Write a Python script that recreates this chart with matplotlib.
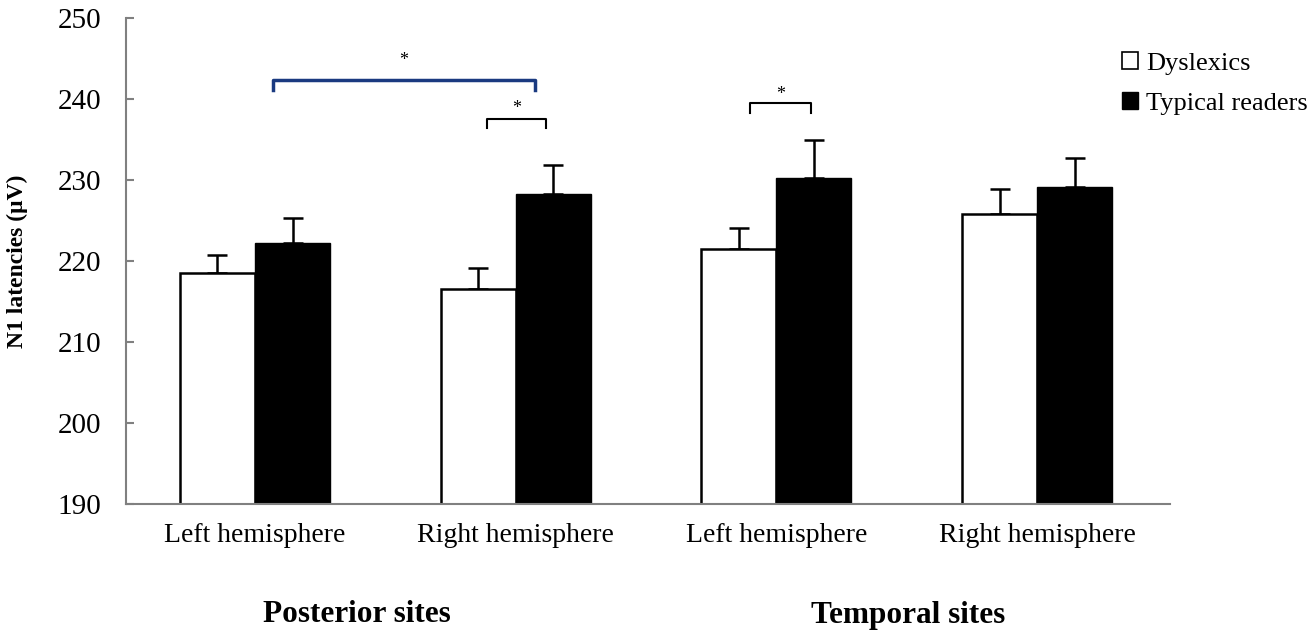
import matplotlib
matplotlib.use("Agg")
import matplotlib.pyplot as plt
import numpy as np
from matplotlib.patches import Patch

categories = ["Left hemisphere", "Right hemisphere", "Left hemisphere", "Right hemisphere"]
groups = ["Posterior sites", "Temporal sites"]
dyslexics = [218.5, 216.5, 221.5, 225.8]
dyslexics_err = [2.2, 2.6, 2.6, 3.1]
typical = [222.2, 228.3, 230.2, 229.1]
typical_err = [3.1, 3.6, 4.7, 3.6]
yticks = [190, 200, 210, 220, 230, 240, 250]

plt.rcParams['font.family'] = ['Liberation Serif', 'DejaVu Serif']

fig = plt.figure(figsize=(13.13, 6.41), dpi=100)
W, H = 1313, 641
ax = fig.add_axes([126 / W, 1 - 504 / H, (1170 - 126) / W, (504 - 18) / H])

x = np.arange(len(categories))
w = 0.288
ax.bar(x - w / 2, dyslexics, width=w, color='white', edgecolor='black', linewidth=1.8,
       label='Dyslexics', zorder=2)
ax.bar(x + w / 2, typical, width=w, color='black', edgecolor='black', linewidth=1.0,
       label='Typical readers', zorder=2)
ax.errorbar(x - w / 2, dyslexics, yerr=[np.zeros(4), dyslexics_err], fmt='none',
            ecolor='black', elinewidth=1.8, capsize=7, capthick=1.8, zorder=1)
ax.errorbar(x + w / 2, typical, yerr=[np.zeros(4), typical_err], fmt='none',
            ecolor='black', elinewidth=1.8, capsize=7, capthick=1.8, zorder=1)

ax.set_ylim(190, 250)
ax.set_xlim(-0.495, 3.51)
ax.set_yticks(yticks)
ax.set_yticklabels([str(t) for t in yticks], fontsize=21)
ax.set_xticks(x)
ax.set_xticklabels(categories, fontsize=20)
ax.tick_params(axis='y', direction='in', length=6, color='#808080', width=1.5, pad=18)
ax.tick_params(axis='x', length=0, pad=14)
for s in ['top', 'right']:
    ax.spines[s].set_visible(False)
for s in ['left', 'bottom']:
    ax.spines[s].set_color('#808080')
    ax.spines[s].set_linewidth(1.5)

def bracket(x0, x1, y, drop, color, lw, star_y):
    ax.plot([x0, x0, x1, x1], [y - drop, y, y, y - drop], color=color, lw=lw,
            clip_on=False, zorder=3)
    ax.text((x0 + x1) / 2, star_y, '*', ha='center', va='center', fontsize=13, color='black')

bracket(0.069, 1.074, 242.3, 1.2, '#1a3a80', 2.5, 244.7)
bracket(0.89, 1.116, 237.5, 1.1, 'black', 1.5, 238.8)
bracket(1.899, 2.133, 239.5, 1.2, 'black', 1.5, 240.6)

handles = [Patch(facecolor='white', edgecolor='black', linewidth=1.2),
           Patch(facecolor='black', edgecolor='black')]
fig.legend(handles, ['Dyslexics', 'Typical readers'], loc='upper left',
           bbox_to_anchor=(1104 / W, 1 - 34 / H), frameon=False, fontsize=19,
           handlelength=0.6, handleheight=0.6, handletextpad=0.3, labelspacing=0.65,
           borderpad=0.2)

fig.text(17 / W, 1 - 261 / H, 'N1 latencies (μV)', rotation=90, ha='center', va='center',
         fontsize=17, fontweight='bold')
fig.text(357 / W, 1 - 615 / H, groups[0], ha='center', va='center', fontsize=22.5,
         fontweight='bold')
fig.text(908 / W, 1 - 615 / H, groups[1], ha='center', va='center', fontsize=22.5,
         fontweight='bold')

fig.savefig('out.png', dpi=100)
